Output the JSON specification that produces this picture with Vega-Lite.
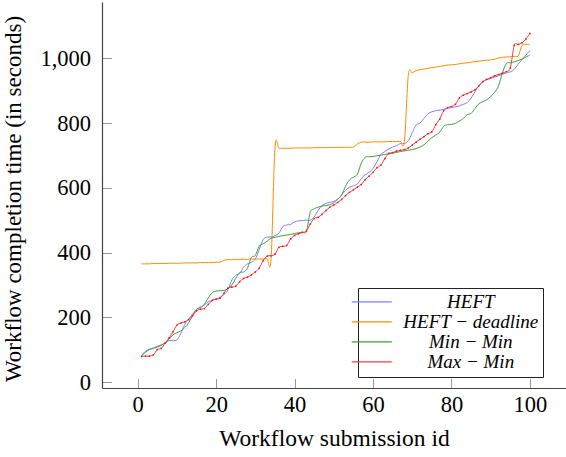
{
"$schema": "https://vega.github.io/schema/vega-lite/v6.json",
"width": 464, "height": 386,
"autosize": {"type": "none"},
"padding": {"left": 102, "top": 2, "right": 0, "bottom": 69},
"background": "white",
"config": {"view": {"stroke": null}, "font": "Liberation Serif"},
"datasets": {
"pts": [
{"series":"HEFT","id":1,"time":81},{"series":"HEFT","id":2,"time":95},{"series":"HEFT","id":3,"time":102},{"series":"HEFT","id":4,"time":105},{"series":"HEFT","id":5,"time":110},{"series":"HEFT","id":6,"time":115},{"series":"HEFT","id":7,"time":120},{"series":"HEFT","id":8,"time":128},{"series":"HEFT","id":9,"time":129},{"series":"HEFT","id":10,"time":130},
{"series":"HEFT","id":11,"time":150},{"series":"HEFT","id":12,"time":178},{"series":"HEFT","id":13,"time":195},{"series":"HEFT","id":14,"time":210},{"series":"HEFT","id":15,"time":225},{"series":"HEFT","id":16,"time":232},{"series":"HEFT","id":17,"time":238},{"series":"HEFT","id":18,"time":248},{"series":"HEFT","id":19,"time":252},{"series":"HEFT","id":20,"time":256},
{"series":"HEFT","id":21,"time":262},{"series":"HEFT","id":22,"time":270},{"series":"HEFT","id":23,"time":285},{"series":"HEFT","id":24,"time":315},{"series":"HEFT","id":25,"time":330},{"series":"HEFT","id":26,"time":335},{"series":"HEFT","id":27,"time":355},{"series":"HEFT","id":28,"time":365},{"series":"HEFT","id":29,"time":370},{"series":"HEFT","id":30,"time":380},
{"series":"HEFT","id":31,"time":410},{"series":"HEFT","id":32,"time":440},{"series":"HEFT","id":33,"time":448},{"series":"HEFT","id":34,"time":448},{"series":"HEFT","id":35,"time":452},{"series":"HEFT","id":36,"time":460},{"series":"HEFT","id":37,"time":480},{"series":"HEFT","id":38,"time":485},{"series":"HEFT","id":39,"time":487},{"series":"HEFT","id":40,"time":495},
{"series":"HEFT","id":41,"time":498},{"series":"HEFT","id":42,"time":499},{"series":"HEFT","id":43,"time":500},{"series":"HEFT","id":44,"time":500},{"series":"HEFT","id":45,"time":510},{"series":"HEFT","id":46,"time":530},{"series":"HEFT","id":47,"time":545},{"series":"HEFT","id":48,"time":552},{"series":"HEFT","id":49,"time":555},{"series":"HEFT","id":50,"time":558},
{"series":"HEFT","id":51,"time":565},{"series":"HEFT","id":52,"time":578},{"series":"HEFT","id":53,"time":592},{"series":"HEFT","id":54,"time":602},{"series":"HEFT","id":55,"time":606},{"series":"HEFT","id":56,"time":612},{"series":"HEFT","id":57,"time":628},{"series":"HEFT","id":58,"time":640},{"series":"HEFT","id":59,"time":648},{"series":"HEFT","id":60,"time":660},
{"series":"HEFT","id":61,"time":680},{"series":"HEFT","id":62,"time":703},{"series":"HEFT","id":63,"time":712},{"series":"HEFT","id":64,"time":720},{"series":"HEFT","id":65,"time":726},{"series":"HEFT","id":66,"time":730},{"series":"HEFT","id":67,"time":737},{"series":"HEFT","id":68,"time":737},{"series":"HEFT","id":69,"time":745},{"series":"HEFT","id":70,"time":770},
{"series":"HEFT","id":71,"time":794},{"series":"HEFT","id":72,"time":800},{"series":"HEFT","id":73,"time":815},{"series":"HEFT","id":74,"time":828},{"series":"HEFT","id":75,"time":835},{"series":"HEFT","id":76,"time":838},{"series":"HEFT","id":77,"time":840},{"series":"HEFT","id":78,"time":842},{"series":"HEFT","id":79,"time":845},{"series":"HEFT","id":80,"time":848},
{"series":"HEFT","id":81,"time":850},{"series":"HEFT","id":82,"time":853},{"series":"HEFT","id":83,"time":858},{"series":"HEFT","id":84,"time":863},{"series":"HEFT","id":85,"time":877},{"series":"HEFT","id":86,"time":897},{"series":"HEFT","id":87,"time":915},{"series":"HEFT","id":88,"time":928},{"series":"HEFT","id":89,"time":934},{"series":"HEFT","id":90,"time":938},
{"series":"HEFT","id":91,"time":942},{"series":"HEFT","id":92,"time":946},{"series":"HEFT","id":93,"time":951},{"series":"HEFT","id":94,"time":955},{"series":"HEFT","id":95,"time":958},{"series":"HEFT","id":96,"time":966},{"series":"HEFT","id":97,"time":982},{"series":"HEFT","id":98,"time":996},{"series":"HEFT","id":99,"time":1010},{"series":"HEFT","id":100,"time":1024},
{"series":"HEFT − deadline","id":1,"time":365},{"series":"HEFT − deadline","id":2,"time":365},{"series":"HEFT − deadline","id":3,"time":365},{"series":"HEFT − deadline","id":4,"time":366},{"series":"HEFT − deadline","id":5,"time":366},{"series":"HEFT − deadline","id":6,"time":366},{"series":"HEFT − deadline","id":7,"time":366},{"series":"HEFT − deadline","id":8,"time":367},{"series":"HEFT − deadline","id":9,"time":367},{"series":"HEFT − deadline","id":10,"time":367},
{"series":"HEFT − deadline","id":11,"time":367},{"series":"HEFT − deadline","id":12,"time":368},{"series":"HEFT − deadline","id":13,"time":368},{"series":"HEFT − deadline","id":14,"time":368},{"series":"HEFT − deadline","id":15,"time":368},{"series":"HEFT − deadline","id":16,"time":369},{"series":"HEFT − deadline","id":17,"time":369},{"series":"HEFT − deadline","id":18,"time":369},{"series":"HEFT − deadline","id":19,"time":369},{"series":"HEFT − deadline","id":20,"time":370},
{"series":"HEFT − deadline","id":21,"time":370},{"series":"HEFT − deadline","id":22,"time":376},{"series":"HEFT − deadline","id":23,"time":378},{"series":"HEFT − deadline","id":24,"time":378},{"series":"HEFT − deadline","id":25,"time":379},{"series":"HEFT − deadline","id":26,"time":379},{"series":"HEFT − deadline","id":27,"time":379},{"series":"HEFT − deadline","id":28,"time":379},{"series":"HEFT − deadline","id":29,"time":380},{"series":"HEFT − deadline","id":30,"time":380},
{"series":"HEFT − deadline","id":31,"time":380},{"series":"HEFT − deadline","id":32,"time":380},{"series":"HEFT − deadline","id":33,"time":381},{"series":"HEFT − deadline","id":34,"time":381},{"series":"HEFT − deadline","id":35,"time":722},{"series":"HEFT − deadline","id":36,"time":722},{"series":"HEFT − deadline","id":37,"time":722},{"series":"HEFT − deadline","id":38,"time":722},{"series":"HEFT − deadline","id":39,"time":722},{"series":"HEFT − deadline","id":40,"time":723},
{"series":"HEFT − deadline","id":41,"time":723},{"series":"HEFT − deadline","id":42,"time":723},{"series":"HEFT − deadline","id":43,"time":723},{"series":"HEFT − deadline","id":44,"time":723},{"series":"HEFT − deadline","id":45,"time":724},{"series":"HEFT − deadline","id":46,"time":724},{"series":"HEFT − deadline","id":47,"time":724},{"series":"HEFT − deadline","id":48,"time":724},{"series":"HEFT − deadline","id":49,"time":724},{"series":"HEFT − deadline","id":50,"time":725},
{"series":"HEFT − deadline","id":51,"time":725},{"series":"HEFT − deadline","id":52,"time":725},{"series":"HEFT − deadline","id":53,"time":725},{"series":"HEFT − deadline","id":54,"time":725},{"series":"HEFT − deadline","id":55,"time":726},{"series":"HEFT − deadline","id":56,"time":735},{"series":"HEFT − deadline","id":57,"time":741},{"series":"HEFT − deadline","id":58,"time":741},{"series":"HEFT − deadline","id":59,"time":741},{"series":"HEFT − deadline","id":60,"time":742},
{"series":"HEFT − deadline","id":61,"time":742},{"series":"HEFT − deadline","id":62,"time":742},{"series":"HEFT − deadline","id":63,"time":742},{"series":"HEFT − deadline","id":64,"time":743},{"series":"HEFT − deadline","id":65,"time":743},{"series":"HEFT − deadline","id":66,"time":743},{"series":"HEFT − deadline","id":67,"time":743},{"series":"HEFT − deadline","id":68,"time":743},{"series":"HEFT − deadline","id":69,"time":948},{"series":"HEFT − deadline","id":70,"time":955},
{"series":"HEFT − deadline","id":71,"time":962},{"series":"HEFT − deadline","id":72,"time":965},{"series":"HEFT − deadline","id":73,"time":967},{"series":"HEFT − deadline","id":74,"time":969},{"series":"HEFT − deadline","id":75,"time":971},{"series":"HEFT − deadline","id":76,"time":973},{"series":"HEFT − deadline","id":77,"time":975},{"series":"HEFT − deadline","id":78,"time":977},{"series":"HEFT − deadline","id":79,"time":979},{"series":"HEFT − deadline","id":80,"time":980},
{"series":"HEFT − deadline","id":81,"time":981},{"series":"HEFT − deadline","id":82,"time":983},{"series":"HEFT − deadline","id":83,"time":985},{"series":"HEFT − deadline","id":84,"time":986},{"series":"HEFT − deadline","id":85,"time":988},{"series":"HEFT − deadline","id":86,"time":990},{"series":"HEFT − deadline","id":87,"time":991},{"series":"HEFT − deadline","id":88,"time":993},{"series":"HEFT − deadline","id":89,"time":994},{"series":"HEFT − deadline","id":90,"time":995},
{"series":"HEFT − deadline","id":91,"time":997},{"series":"HEFT − deadline","id":92,"time":1001},{"series":"HEFT − deadline","id":93,"time":1003},{"series":"HEFT − deadline","id":94,"time":1004},{"series":"HEFT − deadline","id":95,"time":1005},{"series":"HEFT − deadline","id":96,"time":1006},{"series":"HEFT − deadline","id":97,"time":1007},{"series":"HEFT − deadline","id":98,"time":1040},{"series":"HEFT − deadline","id":99,"time":1043},{"series":"HEFT − deadline","id":100,"time":1043},
{"series":"Min − Min","id":1,"time":81},{"series":"Min − Min","id":2,"time":92},{"series":"Min − Min","id":3,"time":100},{"series":"Min − Min","id":4,"time":104},{"series":"Min − Min","id":5,"time":108},{"series":"Min − Min","id":6,"time":113},{"series":"Min − Min","id":7,"time":122},{"series":"Min − Min","id":8,"time":132},{"series":"Min − Min","id":9,"time":146},{"series":"Min − Min","id":10,"time":152},
{"series":"Min − Min","id":11,"time":158},{"series":"Min − Min","id":12,"time":168},{"series":"Min − Min","id":13,"time":183},{"series":"Min − Min","id":14,"time":205},{"series":"Min − Min","id":15,"time":224},{"series":"Min − Min","id":16,"time":230},{"series":"Min − Min","id":17,"time":240},{"series":"Min − Min","id":18,"time":260},{"series":"Min − Min","id":19,"time":276},{"series":"Min − Min","id":20,"time":281},
{"series":"Min − Min","id":21,"time":282},{"series":"Min − Min","id":22,"time":283},{"series":"Min − Min","id":23,"time":288},{"series":"Min − Min","id":24,"time":300},{"series":"Min − Min","id":25,"time":320},{"series":"Min − Min","id":26,"time":338},{"series":"Min − Min","id":27,"time":340},{"series":"Min − Min","id":28,"time":352},{"series":"Min − Min","id":29,"time":385},{"series":"Min − Min","id":30,"time":391},
{"series":"Min − Min","id":31,"time":420},{"series":"Min − Min","id":32,"time":427},{"series":"Min − Min","id":33,"time":435},{"series":"Min − Min","id":34,"time":444},{"series":"Min − Min","id":35,"time":447},{"series":"Min − Min","id":36,"time":450},{"series":"Min − Min","id":37,"time":452},{"series":"Min − Min","id":38,"time":454},{"series":"Min − Min","id":39,"time":456},{"series":"Min − Min","id":40,"time":459},
{"series":"Min − Min","id":41,"time":461},{"series":"Min − Min","id":42,"time":463},{"series":"Min − Min","id":43,"time":465},{"series":"Min − Min","id":44,"time":524},{"series":"Min − Min","id":45,"time":535},{"series":"Min − Min","id":46,"time":540},{"series":"Min − Min","id":47,"time":544},{"series":"Min − Min","id":48,"time":545},{"series":"Min − Min","id":49,"time":548},{"series":"Min − Min","id":50,"time":554},
{"series":"Min − Min","id":51,"time":565},{"series":"Min − Min","id":52,"time":578},{"series":"Min − Min","id":53,"time":605},{"series":"Min − Min","id":54,"time":624},{"series":"Min − Min","id":55,"time":633},{"series":"Min − Min","id":56,"time":642},{"series":"Min − Min","id":57,"time":676},{"series":"Min − Min","id":58,"time":694},{"series":"Min − Min","id":59,"time":696},{"series":"Min − Min","id":60,"time":697},
{"series":"Min − Min","id":61,"time":699},{"series":"Min − Min","id":62,"time":701},{"series":"Min − Min","id":63,"time":703},{"series":"Min − Min","id":64,"time":705},{"series":"Min − Min","id":65,"time":707},{"series":"Min − Min","id":66,"time":709},{"series":"Min − Min","id":67,"time":712},{"series":"Min − Min","id":68,"time":714},{"series":"Min − Min","id":69,"time":716},{"series":"Min − Min","id":70,"time":718},
{"series":"Min − Min","id":71,"time":721},{"series":"Min − Min","id":72,"time":726},{"series":"Min − Min","id":73,"time":733},{"series":"Min − Min","id":74,"time":744},{"series":"Min − Min","id":75,"time":755},{"series":"Min − Min","id":76,"time":763},{"series":"Min − Min","id":77,"time":772},{"series":"Min − Min","id":78,"time":790},{"series":"Min − Min","id":79,"time":795},{"series":"Min − Min","id":80,"time":796},
{"series":"Min − Min","id":81,"time":799},{"series":"Min − Min","id":82,"time":806},{"series":"Min − Min","id":83,"time":814},{"series":"Min − Min","id":84,"time":826},{"series":"Min − Min","id":85,"time":830},{"series":"Min − Min","id":86,"time":845},{"series":"Min − Min","id":87,"time":860},{"series":"Min − Min","id":88,"time":866},{"series":"Min − Min","id":89,"time":872},{"series":"Min − Min","id":90,"time":882},
{"series":"Min − Min","id":91,"time":895},{"series":"Min − Min","id":92,"time":915},{"series":"Min − Min","id":93,"time":955},{"series":"Min − Min","id":94,"time":984},{"series":"Min − Min","id":95,"time":986},{"series":"Min − Min","id":96,"time":989},{"series":"Min − Min","id":97,"time":993},{"series":"Min − Min","id":98,"time":998},{"series":"Min − Min","id":99,"time":1004},{"series":"Min − Min","id":100,"time":1010},
{"series":"Max − Min","id":1,"time":79},{"series":"Max − Min","id":2,"time":80},{"series":"Max − Min","id":3,"time":80},{"series":"Max − Min","id":4,"time":84},{"series":"Max − Min","id":5,"time":100},{"series":"Max − Min","id":6,"time":104},{"series":"Max − Min","id":7,"time":120},{"series":"Max − Min","id":8,"time":136},{"series":"Max − Min","id":9,"time":155},{"series":"Max − Min","id":10,"time":176},
{"series":"Max − Min","id":11,"time":182},{"series":"Max − Min","id":12,"time":186},{"series":"Max − Min","id":13,"time":193},{"series":"Max − Min","id":14,"time":205},{"series":"Max − Min","id":15,"time":220},{"series":"Max − Min","id":16,"time":225},{"series":"Max − Min","id":17,"time":227},{"series":"Max − Min","id":18,"time":240},{"series":"Max − Min","id":19,"time":252},{"series":"Max − Min","id":20,"time":256},
{"series":"Max − Min","id":21,"time":259},{"series":"Max − Min","id":22,"time":275},{"series":"Max − Min","id":23,"time":290},{"series":"Max − Min","id":24,"time":293},{"series":"Max − Min","id":25,"time":296},{"series":"Max − Min","id":26,"time":310},{"series":"Max − Min","id":27,"time":320},{"series":"Max − Min","id":28,"time":324},{"series":"Max − Min","id":29,"time":331},{"series":"Max − Min","id":30,"time":340},
{"series":"Max − Min","id":31,"time":352},{"series":"Max − Min","id":32,"time":375},{"series":"Max − Min","id":33,"time":389},{"series":"Max − Min","id":34,"time":390},{"series":"Max − Min","id":35,"time":395},{"series":"Max − Min","id":36,"time":416},{"series":"Max − Min","id":37,"time":419},{"series":"Max − Min","id":38,"time":422},{"series":"Max − Min","id":39,"time":442},{"series":"Max − Min","id":40,"time":453},
{"series":"Max − Min","id":41,"time":458},{"series":"Max − Min","id":42,"time":462},{"series":"Max − Min","id":43,"time":466},{"series":"Max − Min","id":44,"time":488},{"series":"Max − Min","id":45,"time":505},{"series":"Max − Min","id":46,"time":509},{"series":"Max − Min","id":47,"time":518},{"series":"Max − Min","id":48,"time":530},{"series":"Max − Min","id":49,"time":540},{"series":"Max − Min","id":50,"time":547},
{"series":"Max − Min","id":51,"time":555},{"series":"Max − Min","id":52,"time":564},{"series":"Max − Min","id":53,"time":576},{"series":"Max − Min","id":54,"time":586},{"series":"Max − Min","id":55,"time":594},{"series":"Max − Min","id":56,"time":602},{"series":"Max − Min","id":57,"time":610},{"series":"Max − Min","id":58,"time":625},{"series":"Max − Min","id":59,"time":636},{"series":"Max − Min","id":60,"time":648},
{"series":"Max − Min","id":61,"time":662},{"series":"Max − Min","id":62,"time":670},{"series":"Max − Min","id":63,"time":690},{"series":"Max − Min","id":64,"time":706},{"series":"Max − Min","id":65,"time":709},{"series":"Max − Min","id":66,"time":713},{"series":"Max − Min","id":67,"time":716},{"series":"Max − Min","id":68,"time":718},{"series":"Max − Min","id":69,"time":723},{"series":"Max − Min","id":70,"time":732},
{"series":"Max − Min","id":71,"time":741},{"series":"Max − Min","id":72,"time":750},{"series":"Max − Min","id":73,"time":758},{"series":"Max − Min","id":74,"time":767},{"series":"Max − Min","id":75,"time":773},{"series":"Max − Min","id":76,"time":795},{"series":"Max − Min","id":77,"time":812},{"series":"Max − Min","id":78,"time":838},{"series":"Max − Min","id":79,"time":848},{"series":"Max − Min","id":80,"time":851},
{"series":"Max − Min","id":81,"time":858},{"series":"Max − Min","id":82,"time":877},{"series":"Max − Min","id":83,"time":886},{"series":"Max − Min","id":84,"time":891},{"series":"Max − Min","id":85,"time":896},{"series":"Max − Min","id":86,"time":903},{"series":"Max − Min","id":87,"time":915},{"series":"Max − Min","id":88,"time":928},{"series":"Max − Min","id":89,"time":935},{"series":"Max − Min","id":90,"time":940},
{"series":"Max − Min","id":91,"time":946},{"series":"Max − Min","id":92,"time":950},{"series":"Max − Min","id":93,"time":954},{"series":"Max − Min","id":94,"time":959},{"series":"Max − Min","id":95,"time":970},{"series":"Max − Min","id":96,"time":1040},{"series":"Max − Min","id":97,"time":1043},{"series":"Max − Min","id":98,"time":1048},{"series":"Max − Min","id":99,"time":1060},{"series":"Max − Min","id":100,"time":1077}
]
},
"data": {"name": "pts"},
"encoding": {
  "x": {"field": "id", "type": "quantitative",
    "scale": {"domain": [-9.1, 109.2], "nice": false, "zero": false},
    "axis": {"values": [0, 20, 40, 60, 80, 100], "title": "Workflow submission id", "grid": false,
      "tickSize": -9.5, "tickColor": "#999999", "tickWidth": 1, "domainColor": "#444444", "domainWidth": 1.2,
      "labelFont": "Liberation Serif", "labelFontSize": 22.5, "labelColor": "#000000", "labelPadding": 14.5,
      "titleFont": "Liberation Serif", "titleFontSize": 23.5, "titleFontWeight": "normal", "titleColor": "#000000",
      "titleBaseline": "alphabetic", "titleY": 57}},
  "y": {"field": "time", "type": "quantitative",
    "scale": {"domain": [-18.5, 1174], "nice": false, "zero": false},
    "axis": {"values": [0, 200, 400, 600, 800, 1000], "format": ",d", "title": "Workflow completion time (in seconds)", "grid": false,
      "tickSize": -9.5, "tickColor": "#999999", "tickWidth": 1, "domainColor": "#444444", "domainWidth": 1.2,
      "labelFont": "Liberation Serif", "labelFontSize": 22.5, "labelColor": "#000000", "labelPadding": 21,
      "titleFont": "Liberation Serif", "titleFontSize": 23, "titleFontWeight": "normal", "titleColor": "#000000",
      "titleX": -77, "titleY": 196.5}}
},
"layer": [
  {"mark": {"type": "line", "interpolate": "cardinal", "strokeWidth": 1, "clip": true},
   "encoding": {
    "color": {"field": "series", "type": "nominal",
      "scale": {"domain": ["HEFT", "HEFT − deadline", "Min − Min", "Max − Min"], "range": ["#8080ff", "#ff8c00", "#3da03d", "#ff3a3a"]},
      "legend": {"title": null, "orient": "none", "legendX": 256, "legendY": 286, "direction": "vertical",
        "symbolType": "M-4.6,0M-4,0H4", "symbolSize": 100, "symbolStrokeWidth": 1.2,
        "labelFont": "Liberation Serif", "labelFontStyle": "italic", "labelFontSize": 19, "labelColor": "#000000",
        "labelExpr": "datum.label + ' '",
        "labelAlign": "center", "labelOffset": 89.5, "rowPadding": -0.3,
        "strokeColor": "#222222", "fillColor": "white", "padding": 4.3, "cornerRadius": 0}}}},
  {"transform": [{"filter": "datum.series == 'Max − Min'"}],
   "mark": {"type": "point", "filled": true, "size": 3, "color": "#e02020", "opacity": 1}}
]
}
